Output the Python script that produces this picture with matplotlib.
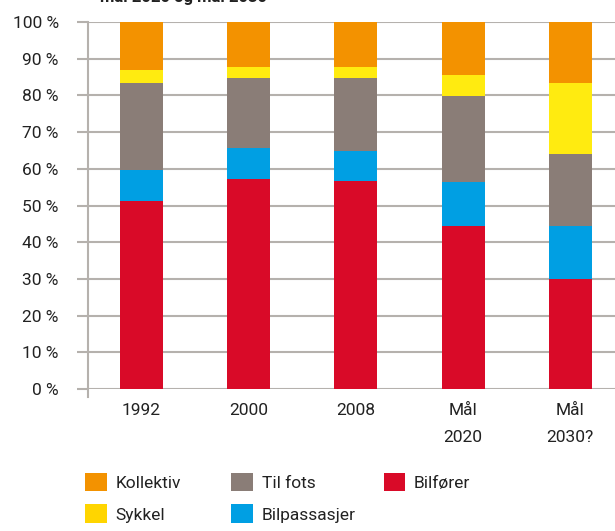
import numpy as np
import matplotlib.pyplot as plt
from matplotlib.patches import Patch

plt.rcParams['font.family'] = ['Roboto', 'DejaVu Sans']

categories = ['1992', '2000', '2008', 'Mål\n2020', 'Mål\n2030?']
bilforer = [51.2, 57.1, 56.8, 44.3, 30.0]
bilpassasjer = [8.6, 8.7, 8.1, 12.0, 14.3]
til_fots = [23.6, 19.0, 19.9, 23.6, 19.6]
sykkel = [3.6, 3.0, 3.0, 5.7, 19.5]
kollektiv = [13.0, 12.2, 12.2, 14.4, 16.6]

series = [
    ('Bilfører', bilforer, '#d90a28'),
    ('Bilpassasjer', bilpassasjer, '#009fe3'),
    ('Til fots', til_fots, '#8a7d77'),
    ('Sykkel', sykkel, '#ffeb10'),
    ('Kollektiv', kollektiv, '#f39200'),
]
legend_cols = {
    'Kollektiv': '#f39200', 'Sykkel': '#ffd500', 'Til fots': '#8a7d77',
    'Bilpassasjer': '#009fe3', 'Bilfører': '#d90a28',
}

W, H = 615, 531
fig = plt.figure(figsize=(6.15, 5.31), dpi=100)
ax = fig.add_axes([88 / W, 1 - 389 / H, 1 - 88 / W, 367 / H])

x = np.arange(len(categories))
bottom = np.zeros(len(categories))
for name, vals, col in series:
    ax.bar(x, vals, 0.401, bottom=bottom, color=col, zorder=3)
    bottom += np.array(vals)

grid_col = '#b5b1ad'
ax.set_ylim(0, 100)
ax.set_xlim(-0.499, 4.417)
ax.set_yticks(np.arange(0, 101, 10))
ax.set_yticklabels([f'{v} %' for v in range(0, 101, 10)])
ax.yaxis.grid(True, color=grid_col, linewidth=1.5, zorder=0)
ax.set_xticks(x)
ax.set_xticklabels(categories, linespacing=2.0)
ax.tick_params(axis='y', length=8, width=1.5, color=grid_col, pad=13,
               labelsize=12.5, labelcolor='#222222')
ax.tick_params(axis='x', length=0, pad=10, labelsize=12.5, labelcolor='#222222')
for s in ['top', 'right', 'bottom']:
    ax.spines[s].set_visible(False)
ax.spines['left'].set_color(grid_col)
ax.spines['left'].set_linewidth(1.5)
ax.spines['left'].set_bounds(-2.2, 100)

fig.text(100 / W, 1.006, 'mål 2020 og mål 2030', fontsize=12, fontweight='bold',
         va='center', ha='left', color='#222222')

# legend in three columns
columns = [(85, ['Kollektiv', 'Sykkel']), (231, ['Til fots', 'Bilpassasjer']),
           (383.5, ['Bilfører'])]
for xpos, names in columns:
    hs = [Patch(facecolor=legend_cols[n], edgecolor='none') for n in names]
    leg = fig.legend(hs, names, loc='upper left', bbox_to_anchor=(xpos / W, 1 - 473 / H),
                     frameon=False, fontsize=12.5, handlelength=1.26, handleheight=1.26,
                     labelspacing=0.75, handletextpad=0.5, borderaxespad=0, borderpad=0)
    for t in leg.get_texts():
        t.set_color('#222222')

fig.savefig('out.png', dpi=100)
